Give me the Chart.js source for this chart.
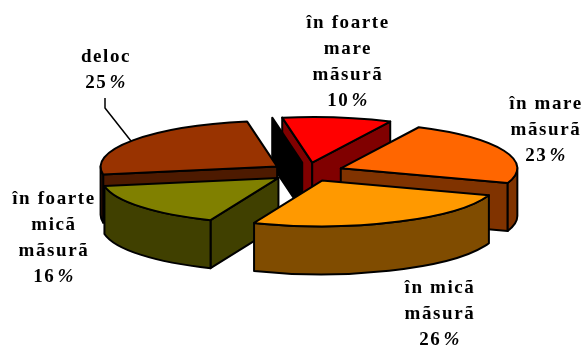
<!DOCTYPE html>
<html>
<head>
  <meta charset="utf-8">
  <title>Pie 3D</title>
  <script src="https://cdn.jsdelivr.net/npm/chart.js"></script>
  <style>
    html, body { margin: 0; background: #fff; }
    canvas { display: block; }
  </style>
</head>
<body>
  <canvas id="graphique" width="587" height="347"></canvas>

  <script>
    const categories = ["în foarte mare mãsurã", "în mare mãsurã", "în micã mãsurã", "în foarte micã mãsurã", "deloc"];
    const valeurs = [10, 23, 26, 16, 25];
    const couleurs = ["#FF0000", "#FF6600", "#FF9900", "#808000", "#993300"];
    const couleursCote = ["#800000", "#803300", "#804C00", "#404000", "#4D1A00"];
    const lignesLabels = [
      ["în foarte", "mare", "mãsurã", "10"],
      ["în mare", "mãsurã", "23"],
      ["în micã", "mãsurã", "26"],
      ["în foarte", "micã", "mãsurã", "16"],
      ["deloc", "25"]
    ];

    // where each label block starts (centre x, first baseline)
    const posLabels = [[348, 28], [546, 109], [440, 293], [54, 204], [106, 62]];
    const interligne = 26;

    // tilted disc: chart space -> page
    const RAYON = 174;
    const M = { a: 1, b: -8 / RAYON, c: 30 / RAYON, d: 45 / RAYON, e: 307, f: 172 };
    const PROFONDEUR = 48;
    const DECALAGE = 36;
    const ORDRE = [0, 4, 1, 3, 2]; // back to front
    const AXE_FACE = Math.atan2(M.c, M.a); // rim faces viewer from here, for 180 deg

    const pie3d = {
      id: "pie3d",
      beforeDatasetsDraw(chart) {
        const ctx = chart.ctx;
        const arcs = chart.getDatasetMeta(0).data;
        const cx = arcs[0].x, cy = arcs[0].y;

        const setM = dy => ctx.setTransform(M.a, M.b, M.c, M.d, M.e - M.a * cx - M.c * cy, M.f + dy - M.b * cx - M.d * cy);
        const page = (x, y) => ({
          x: M.a * (x - cx) + M.c * (y - cy) + M.e,
          y: M.b * (x - cx) + M.d * (y - cy) + M.f
        });
        const finir = (fond) => {
          ctx.setTransform(1, 0, 0, 1, 0, 0);
          ctx.fillStyle = fond;
          ctx.fill();
          ctx.stroke();
        };
        const mur = (p, q, fond, dx) => {
          ctx.beginPath();
          ctx.moveTo(p.x + dx, p.y);
          ctx.lineTo(q.x + dx, q.y);
          ctx.lineTo(q.x + dx, q.y + PROFONDEUR);
          ctx.lineTo(p.x + dx, p.y + PROFONDEUR);
          ctx.closePath();
          finir(fond);
        };

        ctx.save();
        ctx.lineWidth = 2;
        ctx.lineJoin = "round";
        ctx.strokeStyle = "#000";

        ORDRE.forEach(i => {
          const arc = arcs[i];
          const R = arc.outerRadius;
          const milieu = (arc.startAngle + arc.endAngle) / 2;
          const x0 = cx + Math.cos(milieu) * arc.options.offset;
          const y0 = cy + Math.sin(milieu) * arc.options.offset;
          const tip = page(x0, y0);
          const debut = page(x0 + R * Math.cos(arc.startAngle), y0 + R * Math.sin(arc.startAngle));
          const fin = page(x0 + R * Math.cos(arc.endAngle), y0 + R * Math.sin(arc.endAngle));

          if (debut.x < tip.x) mur(tip, debut, couleursCote[i], 0);
          if (tip.x < fin.x) mur(fin, tip, couleursCote[i], 0);

          // the black face over the wall of the first slice
          if (i === 0) mur(debut, tip, "#000", -10);

          // rim, only the part turned to the viewer
          [AXE_FACE - 2 * Math.PI, AXE_FACE].forEach(a0 => {
            const s = Math.max(arc.startAngle, a0);
            const e = Math.min(arc.endAngle, a0 + Math.PI);
            if (e <= s) return;
            ctx.beginPath();
            setM(0);
            ctx.arc(x0, y0, R, s, e);
            setM(PROFONDEUR);
            ctx.arc(x0, y0, R, e, s, true);
            ctx.closePath();
            finir(couleursCote[i]);
          });

          ctx.beginPath();
          setM(0);
          ctx.moveTo(x0, y0);
          ctx.arc(x0, y0, R, arc.startAngle, arc.endAngle);
          ctx.closePath();
          finir(arc.options.backgroundColor);
        });

        // leader line of "deloc"
        ctx.lineWidth = 1.5;
        ctx.beginPath();
        ctx.moveTo(105, 98);
        ctx.lineTo(105, 108);
        ctx.lineTo(131, 141);
        ctx.stroke();

        // labels, the last line is a number followed by an italic %
        const GRAS = "bold 19px 'Liberation Serif'";
        const ITAL = "italic bold 19px 'Liberation Serif'";
        ctx.fillStyle = "#000";
        ctx.letterSpacing = "1.6px";
        lignesLabels.forEach((lignes, i) => {
          const xc = posLabels[i][0];
          lignes.forEach((t, j) => {
            const y = posLabels[i][1] + j * interligne;
            ctx.textAlign = "left";
            ctx.font = GRAS;
            const dernier = j === lignes.length - 1;
            const w1 = ctx.measureText(t).width;
            ctx.font = ITAL;
            const w2 = dernier ? ctx.measureText("%").width + 2 : 0;
            ctx.font = GRAS;
            const x = xc - (w1 + w2) / 2;
            ctx.fillText(t, x, y);
            if (dernier) {
              ctx.font = ITAL;
              ctx.fillText("%", x + w1 + 2, y);
            }
          });
        });
        ctx.restore();
        return false;
      }
    };

    new Chart(document.getElementById("graphique"), {
      type: "pie",
      data: {
        labels: categories,
        datasets: [{
          data: valeurs,
          backgroundColor: couleurs,
          borderColor: "#000",
          borderWidth: 2,
          offset: DECALAGE
        }]
      },
      options: {
        responsive: false,
        animation: false,
        radius: RAYON,
        plugins: { legend: { display: false }, tooltip: { enabled: false } }
      },
      plugins: [pie3d]
    });
  </script>
</body>
</html>
